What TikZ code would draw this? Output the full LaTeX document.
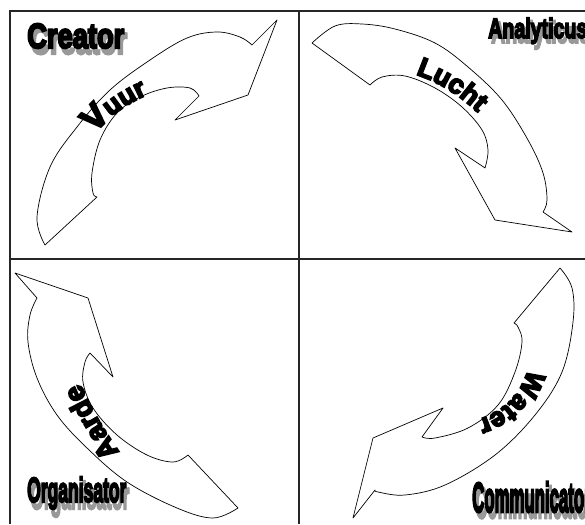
\documentclass[tikz,border=0pt]{standalone}
\usepackage{fontspec}
\usetikzlibrary{decorations.text}
\newfontfamily\wafont[FakeBold=6]{Liberation Sans Bold}
\begin{document}
\begin{tikzpicture}[x=1pt,y=1pt,
  gridline/.style={line width=1.4pt, draw=black!85},
  blockarrow/.style={draw=black, line width=0.7pt, fill=white, line join=round},
  lbl/.style={inner sep=0pt, anchor=base west, text=black},
  shade/.style={inner sep=0pt, anchor=base west, text=black!40},
  smoothcurve/.style={smooth, tension=0.6}]
\useasboundingbox (0,0) rectangle (585,-524);
\fill[white] (0,0) rectangle (585,-524);
% grid
\draw[gridline] (10,-524) -- (10,-11) -- (585,-11);
\draw[gridline] (299,-11) -- (299,-524);
\draw[gridline] (10,-259) -- (585,-259);
% top-left arrow (Vuur)
\draw[blockarrow] plot[smoothcurve] coordinates {(45,-245) (37,-217) (50,-167) (77,-127) (110,-90) (150,-60) (187,-38) (217,-32) (240,-37) (252,-45)}
  -- (277,-20) -- (248,-95) -- (175,-120) -- (199,-96)
  -- plot[smoothcurve] coordinates {(199,-96) (190,-88) (167,-88) (140,-97) (117,-113) (100,-140) (92,-173) (93,-193) (97,-197)} -- cycle;
% top-right arrow (Lucht)
\draw[blockarrow] plot[smoothcurve] coordinates {(312,-43) (335,-26) (362,-24) (395,-29) (435,-43) (468,-67) (502,-100) (528,-140) (543,-173) (547,-200) (543,-212)}
  -- (572,-232) -- (495,-220) -- (455,-148) -- (485,-168)
  -- plot[smoothcurve] coordinates {(485,-168) (488,-150) (482,-130) (462,-107) (435,-88) (405,-76) (382,-77) (370,-85)} -- cycle;
% bottom-left arrow (Aarde)
\draw[blockarrow] (15,-273) -- (88,-298) -- (113,-377) -- (90,-353)
  -- plot[smoothcurve] coordinates {(90,-353) (85,-362) (83,-382) (93,-408) (117,-435) (147,-455) (173,-462) (188,-455)}
  -- plot[smoothcurve] coordinates {(238,-508) (213,-518) (177,-508) (127,-482) (87,-448) (57,-415) (37,-378) (28,-342) (30,-315) (37,-298)} -- cycle;
% bottom-right arrow (Water)
\draw[blockarrow] plot[smoothcurve] coordinates {(560,-268) (572,-288) (573,-322) (562,-372) (535,-415) (495,-455) (445,-485) (405,-495) (378,-492) (375,-490)}
  -- (353,-518) -- (373,-438) -- (443,-408) -- (422,-437)
  -- plot[smoothcurve] coordinates {(422,-437) (435,-438) (468,-428) (498,-405) (515,-372) (522,-342) (518,-327) (514,-323)} -- cycle;
% arrow texts
\path[decorate, decoration={text along path, text align=center,
  text={|\fontsize{34}{34}\wafont|V|\fontsize{27}{27}\wafont|uur}}]
  (86,-146) .. controls (102,-121) and (125,-102) .. (162,-89);
\path[decorate, decoration={text along path, text align=center,
  text={|\fontsize{27}{27}\wafont|Lucht}}]
  (403,-71) .. controls (433,-78) and (461,-94) .. (487,-122);
\path[decorate, decoration={text along path, text align=center,
  text={|\fontsize{27}{27}\wafont|Water}}]
  (531,-357) .. controls (524,-393) and (505,-414) .. (466,-423);
\path[decorate, decoration={text along path, text align=center,
  text={|\fontsize{28}{28}\wafont|Aarde}}]
  (126,-462) .. controls (106,-432) and (90,-410) .. (76,-372);
% labels with shadows
\node[shade] (creatorS) at (30,-54) {\scalebox{0.78}[1.1]{\fontsize{35}{35}\wafont Creator}};
\node[lbl] (creator) at (27,-48) {\scalebox{0.78}[1]{\fontsize{35}{35}\wafont Creator}};
\node[shade] (analyticusS) at (491,-43) {\scalebox{0.7}[1.1]{\fontsize{28}{28}\wafont Analyticus}};
\node[lbl] (analyticus) at (488,-38) {\scalebox{0.7}[1]{\fontsize{28}{28}\wafont Analyticus}};
\node[shade] (organisatorS) at (30,-509) {\scalebox{0.5}[1.1]{\fontsize{35}{35}\wafont Organisator}};
\node[lbl] (organisator) at (27,-502) {\scalebox{0.5}[1]{\fontsize{35}{35}\wafont Organisator}};
\node[shade] (communicatorS) at (475,-518) {\scalebox{0.4}[1.05]{\fontsize{42}{42}\wafont Communicator}};
\node[lbl] (communicator) at (472,-512) {\scalebox{0.4}[1]{\fontsize{42}{42}\wafont Communicator}};
\end{tikzpicture}
\end{document}
